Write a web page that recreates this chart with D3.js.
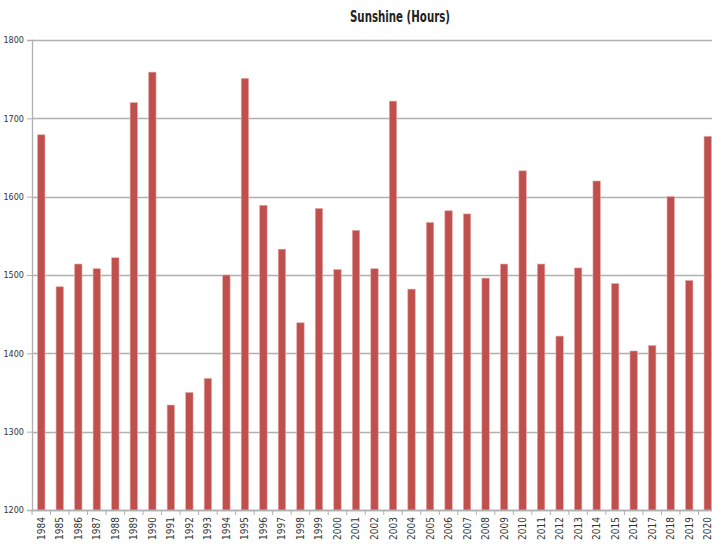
<!DOCTYPE html>
<html lang="en">
<head>
<meta charset="UTF-8">
<script src="https://d3js.org/d3.v7.min.js"></script>
<title>Sunshine (Hours)</title>
<style>
    body { margin: 0; background: #ffffff; overflow: hidden; }
    svg { display: block; }
    .tick text { font-family: "Liberation Sans Narrow", "DejaVu Sans Condensed", sans-serif; fill: #333; }
</style>
</head>
<body>
<div id="chart"></div>
<script>
    const years = ["1984","1985","1986","1987","1988","1989","1990","1991","1992","1993",
                   "1994","1995","1996","1997","1998","1999","2000","2001","2002","2003",
                   "2004","2005","2006","2007","2008","2009","2010","2011","2012","2013",
                   "2014","2015","2016","2017","2018","2019","2020"];
    const sunshine = [1679, 1485, 1514, 1508, 1522, 1720, 1759, 1334, 1350, 1368,
                      1500, 1751, 1589, 1533, 1439, 1585, 1507, 1557, 1508, 1722,
                      1482, 1567, 1582, 1578, 1496, 1514, 1633, 1514, 1422, 1509,
                      1620, 1489, 1403, 1410, 1600, 1493, 1677];
    const yTicks = [1200, 1300, 1400, 1500, 1600, 1700, 1800];

    const width = 712, height = 545;
    const plotLeft = 32, plotRight = 717, plotTop = 40, plotBottom = 510;

    const svg = d3.select("#chart").append("svg")
        .attr("width", width)
        .attr("height", height);

    const x = d3.scaleBand()
        .domain(years)
        .range([plotLeft, plotRight])
        .paddingInner(0.6)
        .paddingOuter(0.3);

    const y = d3.scaleLinear()
        .domain([1200, 1800])
        .range([plotBottom, plotTop]);

    // gridlines
    svg.append("g")
        .selectAll("line")
        .data(yTicks)
        .enter()
        .append("line")
        .attr("x1", plotLeft)
        .attr("x2", width)
        .attr("y1", d => Math.round(y(d)) + 0.5)
        .attr("y2", d => Math.round(y(d)) + 0.5)
        .attr("stroke", "#b0b0b0")
        .attr("stroke-width", 1.3);

    // y axis
    const yAxis = svg.append("g")
        .attr("transform", `translate(${plotLeft},0)`)
        .call(d3.axisLeft(y).tickValues(yTicks).tickSize(5).tickPadding(3).tickFormat(d3.format("d")));
    yAxis.select(".domain").attr("stroke", "#b0b0b0").attr("stroke-width", 1.3);
    yAxis.selectAll(".tick line").attr("stroke", "#b0b0b0");
    yAxis.selectAll(".tick text").attr("font-size", 9).attr("fill", "#444");

    // bars
    svg.append("g")
        .selectAll("rect")
        .data(years.map((yr, i) => ({ year: yr, value: sunshine[i] })))
        .enter()
        .append("rect")
        .attr("x", d => x(d.year))
        .attr("y", d => y(d.value))
        .attr("width", x.bandwidth())
        .attr("height", d => y(1200) - y(d.value))
        .attr("fill", "#c0504d")
        .attr("stroke", "#e3a9a7")
        .attr("stroke-width", 0.6);

    // x axis with ticks between categories
    const xg = svg.append("g")
        .attr("transform", `translate(0,${plotBottom})`);
    xg.append("line")
        .attr("x1", plotLeft).attr("x2", width)
        .attr("y1", 0.5).attr("y2", 0.5)
        .attr("stroke", "#b0b0b0")
        .attr("stroke-width", 1.3);
    xg.selectAll(".sep")
        .data(years)
        .enter()
        .append("line")
        .attr("x1", d => x(d) - x.step() * x.paddingInner() / 2)
        .attr("x2", d => x(d) - x.step() * x.paddingInner() / 2)
        .attr("y1", 0)
        .attr("y2", 5)
        .attr("stroke", "#b0b0b0");
    xg.selectAll(".lbl")
        .data(years)
        .enter()
        .append("text")
        .attr("transform", d => `translate(${x(d) + x.bandwidth() / 2 + 3.5},7) rotate(-90)`)
        .attr("text-anchor", "end")
        .attr("font-family", "Liberation Sans Narrow, DejaVu Sans Condensed, sans-serif")
        .attr("font-size", 10)
        .attr("fill", "#333")
        .text(d => d);

    // title
    svg.append("text")
        .attr("x", 400)
        .attr("y", 22)
        .attr("text-anchor", "middle")
        .attr("font-family", "Liberation Sans Narrow, DejaVu Sans Condensed, sans-serif")
        .attr("font-weight", "bold")
        .attr("font-size", 15)
        .attr("textLength", 100)
        .attr("lengthAdjust", "spacingAndGlyphs")
        .attr("fill", "#222")
        .text("Sunshine (Hours)");
</script>
</body>
</html>
